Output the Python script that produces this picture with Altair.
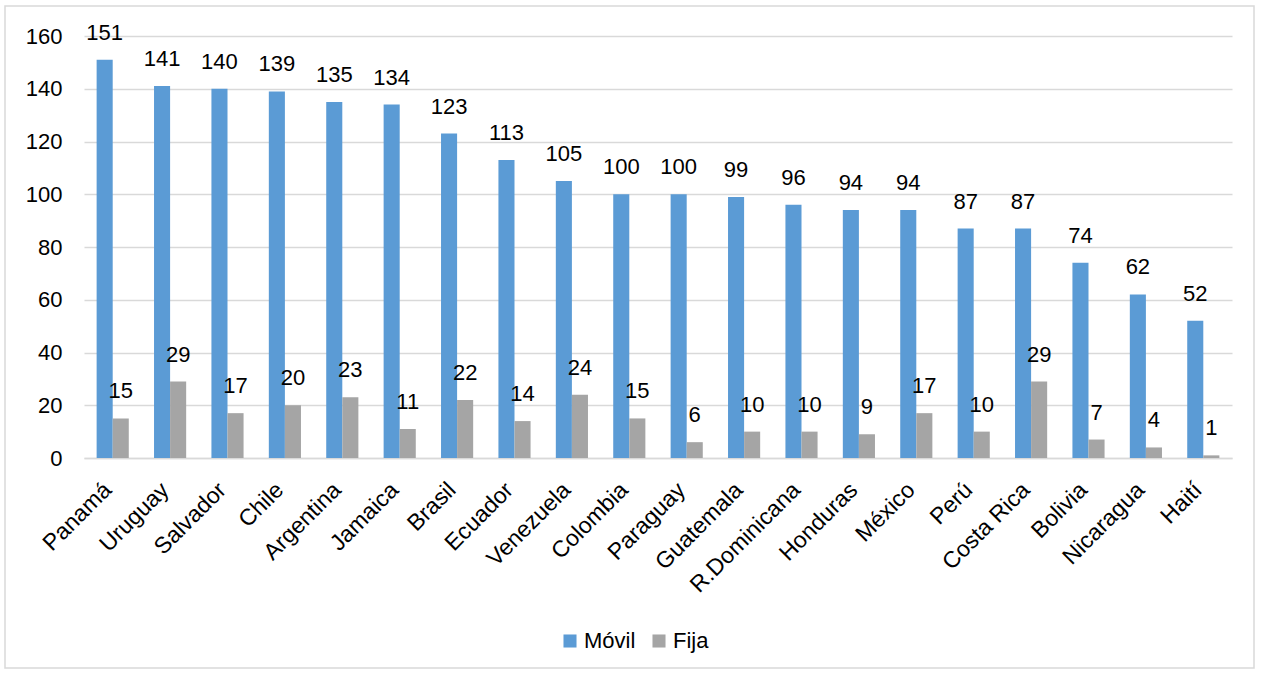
import altair as alt
import pandas as pd

paises = ["Panamá", "Uruguay", "Salvador", "Chile", "Argentina", "Jamaica", "Brasil",
          "Ecuador", "Venezuela", "Colombia", "Paraguay", "Guatemala", "R.Dominicana",
          "Honduras", "México", "Perú", "Costa Rica", "Bolivia", "Nicaragua", "Haití"]
movil = [151, 141, 140, 139, 135, 134, 123, 113, 105, 100, 100, 99, 96, 94, 94, 87, 87, 74, 62, 52]
fija = [15, 29, 17, 20, 23, 11, 22, 14, 24, 15, 6, 10, 10, 9, 17, 10, 29, 7, 4, 1]
series = ["Móvil", "Fija"]
colores = ["#5B9BD5", "#A5A5A5"]

rows = []
for i, p in enumerate(paises):
    rows.append({"pais": p, "serie": "Móvil", "valor": movil[i]})
    rows.append({"pais": p, "serie": "Fija", "valor": fija[i]})
df = pd.DataFrame(rows)

FONT = "Liberation Sans"
FS = 22
W, H = 1148, 422

x = alt.X("pais:N", sort=paises, title=None,
          scale=alt.Scale(paddingInner=0.44, paddingOuter=0.22),
          axis=alt.Axis(labelAngle=-45, labelAlign="right", labelBaseline="alphabetic",
                        labelFontSize=23, labelFont=FONT, labelColor="#000000",
                        labelPadding=33, ticks=False, domain=True, domainColor="#D9D9D9",
                        domainWidth=1.5, labelLimit=300))
y = alt.Y("valor:Q", title=None,
          scale=alt.Scale(domain=[0, 160], nice=False),
          axis=alt.Axis(values=list(range(0, 161, 20)), labelFontSize=FS, labelFont=FONT,
                        labelColor="#000000", ticks=False, domain=False, labelPadding=22,
                        gridColor="#D9D9D9", gridWidth=1.5))
xo = alt.XOffset("serie:N", sort=series, scale=alt.Scale(domain=series, paddingInner=0, paddingOuter=0))
color = alt.Color("serie:N", sort=series,
                  scale=alt.Scale(domain=series, range=colores),
                  legend=alt.Legend(title=None, orient="none", direction="horizontal",
                                    legendX=475, legendY=594, symbolType="square",
                                    symbolSize=170, symbolStrokeWidth=0, labelFontSize=FS,
                                    labelFont=FONT, labelColor="#000000", columnPadding=12,
                                    labelOffset=3, symbolOpacity=1))

base = alt.Chart(df)
bars = base.mark_bar().encode(x=x, y=y, xOffset=xo, color=color)
labels = base.mark_text(baseline="bottom", dy=-15, fontSize=FS, font=FONT, color="#000000").encode(
    x=x, y=y, xOffset=xo, text=alt.Text("valor:Q"))

frame = alt.Chart(pd.DataFrame({"k": [0]})).mark_rect(
    fill=None, stroke="#D9D9D9", strokeWidth=1.5, clip=False).encode(
    x=alt.value(-79), x2=alt.value(1170), y=alt.value(-30), y2=alt.value(632))

chart = alt.layer(frame, bars, labels).properties(
    width=W, height=H,
    autosize=alt.AutoSizeParams(type="none"),
    padding={"left": 84, "top": 36, "right": 29, "bottom": 215},
    background="white",
).configure_view(stroke=None)

chart.save("out.html", embed_options={"renderer": "svg", "actions": False})
